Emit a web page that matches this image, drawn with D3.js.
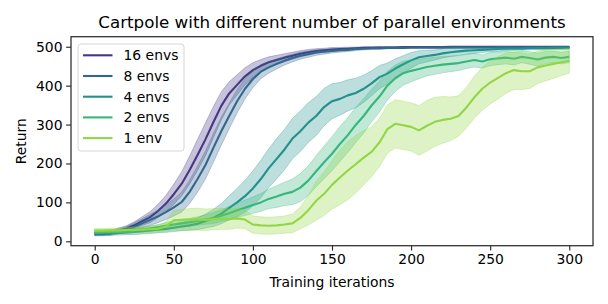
<!DOCTYPE html>
<html>
<head>
<meta charset="utf-8">
<script src="https://cdn.jsdelivr.net/npm/d3@7"></script>
<style>
  body { margin: 0; background: #fff; }
  svg { display: block; font-family: "DejaVu Sans", sans-serif; }
</style>
</head>
<body>
<svg id="chart" width="608" height="304"></svg>
<script>
// training iterations, sampled every 5
var iters = d3.range(0, 301, 5);

var labels = ["16 envs", "8 envs", "4 envs", "2 envs", "1 env"];
var colors = ["#443983", "#31688e", "#21918c", "#35b779", "#90d743"];

// mean return
var mean16 = [20,21,23,28,33,41,52,62,78,97,121,148,183,222,262,306,348,380,402,424,440,451,460,466,472,477,482,486,489,491,493,494,495,496,497,497,498,498,498,499,499,499,499,499,499,500,500,500,500,500,500,500,500,500,500,500,500,500,500,500,500];
var mean8 = [18,18,20,25,30,37,46,55,64,75,87,101,127,160,196,240,283,322,360,392,417,436,447,456,464,471,477,481,485,487,489,491,492,494,495,496,496,497,497,497,498,498,498,498,498,498,498,498,498,498,498,498,498,498,498,498,498,498,498,498,498];
var mean4 = [20,20,21,22,23,24,26,28,30,32,35,38,41,45,52,60,71,86,100,116,136,160,188,212,236,264,283,305,322,345,360,366,375,381,392,406,422,431,444,455,465,473,476,479,483,486,488,490,491,492,493,494,495,495,495,496,496,496,497,497,497];
var mean2 = [25,25,25,26,27,28,30,33,36,40,43,46,49,52,56,60,66,72,80,86,93,100,109,115,122,127,138,156,180,203,225,250,273,299,322,349,372,400,419,432,438,443,448,451,454,456,458,462,466,462,468,470,472,469,474,471,467,472,474,471,474];
var mean1 = [27,27,28,28,29,29,30,31,32,38,54,55,56,57,55,57,58,57,59,56,43,41,40,41,43,46,60,80,104,122,145,164,182,198,215,230,254,288,302,298,294,285,297,307,312,315,322,344,370,392,408,420,432,440,437,437,447,452,456,460,464];

// spread (half width of shaded band)
var sd16 = [4,4,5,6,7,9,11,14,17,21,26,31,36,40,42,40,36,30,26,22,19,16,14,12,10,9,8,7,6,5,5,4,4,3,3,3,2,2,2,2,2,2,2,2,2,1,1,1,1,1,1,1,1,1,1,1,1,1,1,1,1];
var sd8 = [4,4,5,6,8,10,12,14,16,19,22,26,30,34,36,37,36,33,30,26,22,18,15,13,11,10,9,8,7,6,5,5,4,4,3,3,3,2,2,2,2,2,2,2,2,2,2,2,2,2,2,2,2,2,2,2,2,2,2,2,2];
var sd4 = [5,5,5,6,6,7,7,8,8,9,10,11,12,15,18,22,26,31,36,41,45,48,50,52,52,52,52,51,50,48,45,42,40,38,35,32,30,27,25,22,20,17,15,13,12,11,10,9,8,7,6,6,5,4,4,4,4,4,4,4,4];
var sd2 = [5,5,5,5,5,6,6,7,7,8,9,10,10,11,12,14,15,17,18,20,21,23,25,28,30,33,36,38,40,42,44,45,45,45,44,42,40,37,34,31,28,25,23,22,21,20,19,18,18,17,17,16,16,16,15,16,17,16,15,15,15];
var sd1 = [6,6,6,6,7,7,8,8,9,12,25,27,28,28,28,27,27,26,25,24,22,22,22,22,22,24,28,38,50,56,62,70,75,74,70,64,62,62,62,62,62,64,65,63,60,56,52,52,54,55,55,54,52,50,47,44,42,40,37,34,32];

var xTicks = [0, 50, 100, 150, 200, 250, 300];
var yTicks = [0, 100, 200, 300, 400, 500];

var means = [mean16, mean8, mean4, mean2, mean1];
var sds = [sd16, sd8, sd4, sd2, sd1];

var series = labels.map(function(name, i) {
  return {
    name: name,
    color: colors[i],
    values: iters.map(function(it, j) {
      return { it: it, m: means[i][j], lo: means[i][j] - sds[i][j], hi: Math.min(500, means[i][j] + sds[i][j]) };
    })
  };
});

var svg = d3.select("#chart");

// plot frame (px)
var pL = 71, pR = 593, pT = 36.7, pB = 245.7;

var x = d3.scaleLinear().domain([-15, 315]).range([pL, pR]);
var y = d3.scaleLinear().domain([-11.3, 525.8]).range([pB, pT]);

var area = d3.area()
    .x(function(d) { return x(d.it); })
    .y0(function(d) { return y(d.lo); })
    .y1(function(d) { return y(d.hi); });

var line = d3.line()
    .x(function(d) { return x(d.it); })
    .y(function(d) { return y(d.m); });

var plot = svg.append("g");

series.forEach(function(s) {
  plot.append("path")
      .datum(s.values)
      .attr("d", area)
      .attr("fill", s.color)
      .attr("fill-opacity", 0.3)
      .attr("stroke", s.color)
      .attr("stroke-opacity", 0.3)
      .attr("stroke-width", 1);
  plot.append("path")
      .datum(s.values)
      .attr("d", line)
      .attr("fill", "none")
      .attr("stroke", s.color)
      .attr("stroke-width", 2.1)
      .attr("stroke-linejoin", "round");
});

// axes
var xAxis = svg.append("g")
    .attr("transform", "translate(0," + pB + ")")
    .call(d3.axisBottom(x).tickValues(xTicks).tickSize(4.9).tickPadding(3.6).tickSizeOuter(0));
var yAxis = svg.append("g")
    .attr("transform", "translate(" + pL + ",0)")
    .call(d3.axisLeft(y).tickValues(yTicks).tickSize(4.9).tickPadding(3.6).tickSizeOuter(0));

[xAxis, yAxis].forEach(function(a) {
  a.select(".domain").remove();
  a.selectAll(".tick line").attr("stroke", "#222").attr("stroke-width", 1.1);
  a.selectAll(".tick text").attr("fill", "#000").style("font-size", "13.9px").style("font-family", "DejaVu Sans");
});

svg.append("rect")
    .attr("x", pL).attr("y", pT)
    .attr("width", pR - pL).attr("height", pB - pT)
    .attr("fill", "none")
    .attr("stroke", "#333")
    .attr("stroke-width", 1.3);

// title & labels
svg.append("text")
    .attr("x", (pL + pR) / 2).attr("y", 28)
    .attr("text-anchor", "middle")
    .style("font-size", "16.7px")
    .text("Cartpole with different number of parallel environments");

svg.append("text")
    .attr("x", (pL + pR) / 2).attr("y", 287)
    .attr("text-anchor", "middle")
    .style("font-size", "13.9px")
    .text("Training iterations");

svg.append("text")
    .attr("transform", "translate(26," + ((pT + pB) / 2) + ") rotate(-90)")
    .attr("text-anchor", "middle")
    .style("font-size", "13.9px")
    .text("Return");

// legend
var legend = svg.append("g");
legend.append("rect")
    .attr("x", 78).attr("y", 44)
    .attr("width", 106).attr("height", 107)
    .attr("rx", 3)
    .attr("fill", "#fff").attr("fill-opacity", 0.8)
    .attr("stroke", "#d6d6d6").attr("stroke-width", 1);

var items = legend.selectAll("g.item")
    .data(series)
  .enter().append("g")
    .attr("class", "item")
    .attr("transform", function(d, i) { return "translate(0," + (55.3 + i * 20.7) + ")"; });

items.append("line")
    .attr("x1", 83).attr("x2", 112.5)
    .attr("stroke", function(d) { return d.color; })
    .attr("stroke-width", 2.1);

items.append("text")
    .attr("x", 123.5).attr("dy", "0.36em")
    .style("font-size", "13.9px")
    .text(function(d) { return d.name; });
</script>
</body>
</html>
